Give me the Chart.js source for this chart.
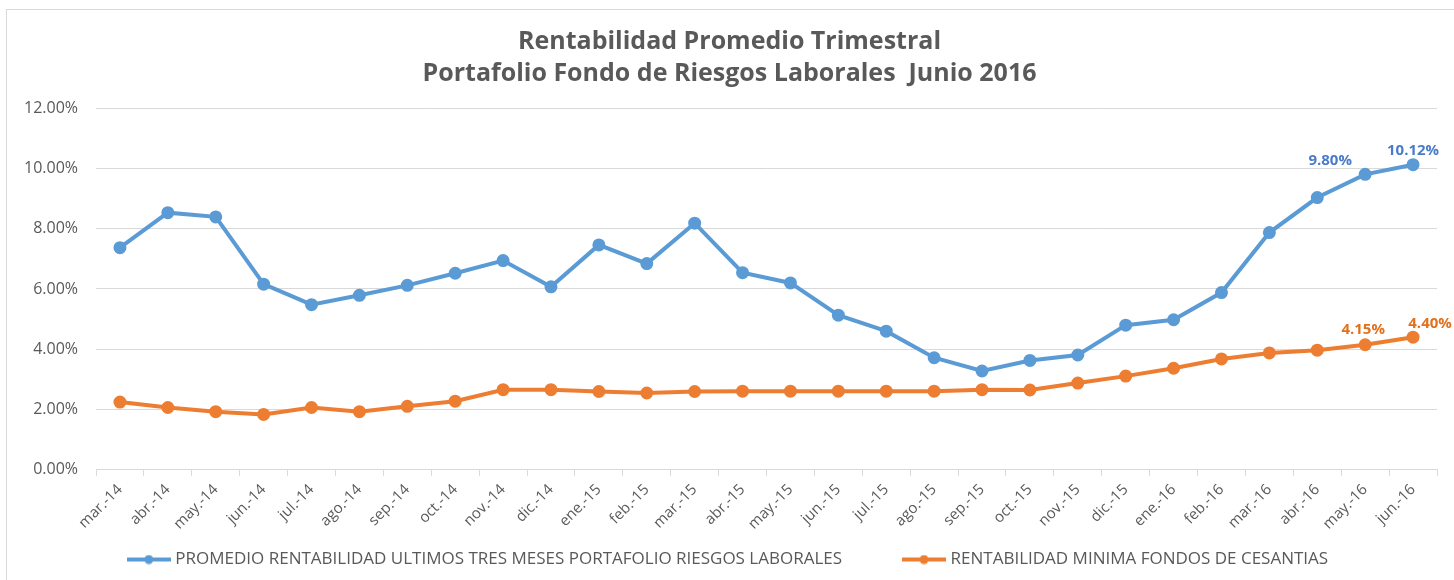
<!DOCTYPE html>
<html lang="es">
<head>
  <meta charset="UTF-8">
  <title>Rentabilidad Promedio Trimestral</title>
  <style>
    body, html { margin:0; padding:0; overflow:hidden; background:#fff; }
    #wrap { position:relative; width:1454px; height:580px; }
    #frame { position:absolute; left:6px; top:9px; width:1460px; height:600px;
             border:1px solid #d9d9d9; pointer-events:none; }
  </style>
</head>
<body>
  <div id="wrap">
    <canvas id="chart" width="1454" height="580"></canvas>
    <div id="frame"></div>
  </div>

  <script src="https://cdn.jsdelivr.net/npm/chart.js"></script>
  <script>
    const months = ['mar.-14','abr.-14','may.-14','jun.-14','jul.-14','ago.-14','sep.-14','oct.-14',
      'nov.-14','dic.-14','ene.-15','feb.-15','mar.-15','abr.-15','may.-15','jun.-15','jul.-15',
      'ago.-15','sep.-15','oct.-15','nov.-15','dic.-15','ene.-16','feb.-16','mar.-16','abr.-16',
      'may.-16','jun.-16'];
    const portafolio = [7.37, 8.53, 8.39, 6.16, 5.48, 5.79, 6.12, 6.52, 6.94, 6.07, 7.46, 6.84, 8.18,
      6.54, 6.20, 5.13, 4.60, 3.72, 3.28, 3.63, 3.81, 4.80, 4.98, 5.88, 7.87, 9.03, 9.80, 10.12];
    const cesantias = [2.25, 2.07, 1.93, 1.84, 2.07, 1.93, 2.11, 2.28, 2.66, 2.66, 2.60, 2.55, 2.60,
      2.61, 2.61, 2.61, 2.61, 2.61, 2.66, 2.65, 2.88, 3.11, 3.37, 3.68, 3.88, 3.97, 4.15, 4.40];
    const yTicks = [0, 2, 4, 6, 8, 10, 12];

    const grey = '#595959', gridCol = '#d9d9d9';
    const blue = '#5b9bd5', orange = '#ed7d31';
    const font = '"Open Sans", Lato, sans-serif';

    // legend marker: line with a dot in the middle
    function marker(col){
      const c = document.createElement('canvas');
      c.width = 44; c.height = 10;
      const g = c.getContext('2d');
      g.strokeStyle = col; g.lineWidth = 4;
      g.beginPath(); g.moveTo(0, 5); g.lineTo(44, 5); g.stroke();
      g.fillStyle = col; g.beginPath(); g.arc(22, 5, 4.5, 0, Math.PI * 2); g.fill();
      return c;
    }

    // value labels on the last two points of each series
    const lastLabels = {
      id: 'lastLabels',
      afterDatasetsDraw(chart){
        const ctx = chart.ctx;
        const shifts = [[[-35, -12], [0, -12]], [[-2, -14], [17, -12]]];
        const cols = ['#4a7bcb', '#e2711d'];
        ctx.save();
        ctx.font = 'bold 15px ' + font;
        ctx.textAlign = 'center';
        ctx.textBaseline = 'bottom';
        chart.data.datasets.forEach((ds, di) => {
          const meta = chart.getDatasetMeta(di);
          const n = ds.data.length;
          [n - 2, n - 1].forEach((idx, k) => {
            const pt = meta.data[idx];
            ctx.fillStyle = cols[di];
            ctx.fillText(ds.data[idx].toFixed(2) + '%', pt.x + shifts[di][k][0], pt.y + shifts[di][k][1] + 6);
          });
        });
        ctx.restore();
      }
    };

    new Chart(document.getElementById('chart'), {
      type: 'line',
      data: {
        labels: months,
        datasets: [
          { label: 'PROMEDIO RENTABILIDAD ULTIMOS TRES MESES PORTAFOLIO RIESGOS LABORALES',
            data: portafolio, borderColor: blue, backgroundColor: blue, borderWidth: 4,
            pointRadius: 4.5, pointHoverRadius: 4.5, pointStyle: 'circle', tension: 0,
            legendMarker: marker(blue), legendGap: '\u2003\u2003\u2003' },
          { label: 'RENTABILIDAD MINIMA FONDOS DE CESANTIAS',
            data: cesantias, borderColor: orange, backgroundColor: orange, borderWidth: 4,
            pointRadius: 4.5, pointHoverRadius: 4.5, pointStyle: 'circle', tension: 0,
            legendMarker: marker(orange), legendGap: '' }
        ]
      },
      options: {
        responsive: false,
        animation: false,
        layout: { autoPadding: false, padding: { left: 22, right: 17, top: 16, bottom: 2 } },
        plugins: {
          title: {
            display: true,
            text: ['Rentabilidad Promedio Trimestral', 'Portafolio Fondo de Riesgos Laborales  Junio 2016'],
            color: grey,
            font: { family: font, size: 25, weight: 'bold', lineHeight: 1.28 },
            padding: { top: 10, bottom: 18 }
          },
          legend: {
            position: 'bottom',
            labels: {
              usePointStyle: true,
              pointStyleWidth: 36,
              padding: 13,
              color: grey,
              font: { family: font, size: 17 },
              generateLabels(chart){
                return chart.data.datasets.map((ds, i) => ({
                  text: ds.label + ds.legendGap, fillStyle: ds.borderColor, strokeStyle: ds.borderColor,
                  pointStyle: ds.legendMarker, datasetIndex: i, lineWidth: 0, fontColor: grey
                }));
              }
            }
          },
          tooltip: { enabled: false }
        },
        scales: {
          x: {
            offset: true,
            grid: { offset: true, drawOnChartArea: false, drawTicks: true, tickLength: 6, color: gridCol },
            border: { display: true, color: gridCol },
            ticks: { color: grey, font: { family: font, size: 15 }, minRotation: 45, maxRotation: 45, padding: 5 }
          },
          y: {
            min: 0, max: 12,
            afterBuildTicks(axis){ axis.ticks = yTicks.map(v => ({ value: v })); },
            afterFit(axis){ axis.width = 74; },
            grid: { color: gridCol, drawTicks: false },
            border: { display: false },
            ticks: { color: grey, font: { family: font, size: 16 }, padding: 18,
                     callback: v => v.toFixed(2) + '%' }
          }
        }
      },
      plugins: [lastLabels]
    });
  </script>
</body>
</html>
